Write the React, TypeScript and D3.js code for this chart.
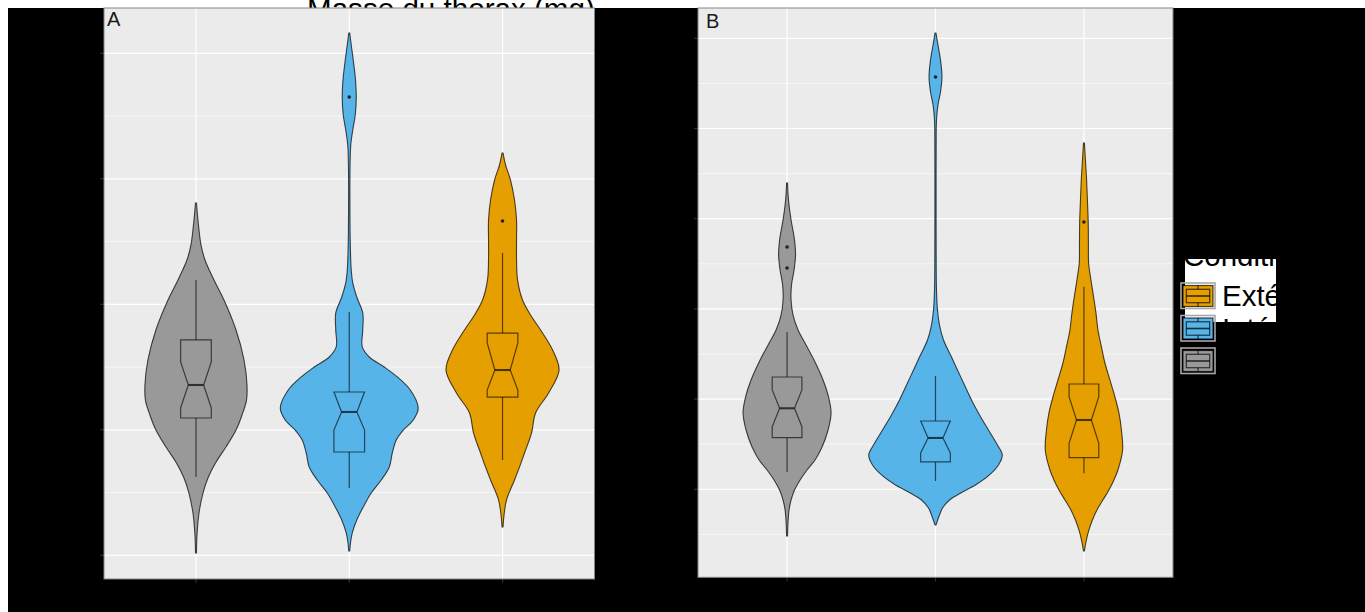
import React from "react";
import * as d3 from "d3";

// ---------- data ----------
const categories = ["Contrôle", "Intérieur", "Extérieur"];
const legendOrder = ["Extérieur", "Intérieur", "Contrôle"];
const legendTitle = "Condition";
const chartTitle = "Masse du thorax (mg)";
const panelTags = ["A", "B"];

const yTicksA = [2, 3, 4, 5, 6];
const yDomainA: [number, number] = [1.811, 6.361];
const yTicksB = [2, 3, 4, 5, 6, 7];
const yDomainB: [number, number] = [1.024, 7.336];

// violin profiles: [value, scaled density]
const violinAControle = [[4.807,0.007],[4.712,0.022],[4.592,0.044],[4.473,0.073],[4.353,0.131],[4.194,0.261],[4.034,0.406],[3.795,0.581],[3.556,0.697],[3.357,0.740],[3.237,0.733],[3.118,0.668],[2.998,0.581],[2.863,0.435],[2.735,0.283],[2.616,0.174],[2.496,0.102],[2.337,0.044],[2.162,0.015],[2.018,0.007]];
const violinAInterieur = [[6.162,0.007],[6.066,0.029],[5.947,0.058],[5.787,0.091],[5.652,0.102],[5.508,0.087],[5.389,0.051],[5.269,0.022],[5.110,0.012],[4.751,0.010],[4.433,0.017],[4.273,0.029],[4.170,0.051],[4.058,0.109],[3.931,0.196],[3.795,0.196],[3.660,0.189],[3.580,0.290],[3.500,0.508],[3.421,0.697],[3.317,0.885],[3.174,1.0],[3.078,0.929],[2.998,0.784],[2.919,0.682],[2.815,0.624],[2.704,0.581],[2.600,0.464],[2.496,0.319],[2.385,0.203],[2.281,0.109],[2.178,0.044],[2.114,0.022],[2.034,0.007]];
const violinAExterieur = [[5.206,0.007],[5.110,0.044],[4.990,0.116],[4.831,0.174],[4.672,0.203],[4.512,0.203],[4.353,0.203],[4.194,0.218],[4.034,0.290],[3.915,0.406],[3.795,0.552],[3.636,0.726],[3.476,0.820],[3.293,0.668],[3.134,0.479],[2.975,0.421],[2.815,0.319],[2.704,0.247],[2.600,0.174],[2.441,0.058],[2.321,0.022],[2.225,0.007]];

const violinBControle = [[5.396,0.007],[5.207,0.022],[4.986,0.060],[4.764,0.112],[4.598,0.127],[4.431,0.105],[4.265,0.067],[4.099,0.060],[3.932,0.090],[3.766,0.165],[3.600,0.284],[3.433,0.404],[3.212,0.539],[3.045,0.614],[2.846,0.659],[2.657,0.614],[2.469,0.524],[2.325,0.419],[2.214,0.299],[2.103,0.195],[1.992,0.112],[1.881,0.060],[1.771,0.030],[1.637,0.015],[1.482,0.007]];
const violinBInterieur = [[7.059,0.007],[6.926,0.037],[6.759,0.075],[6.571,0.097],[6.405,0.075],[6.261,0.037],[6.094,0.015],[5.762,0.010],[5.207,0.009],[4.653,0.010],[4.210,0.015],[3.988,0.030],[3.821,0.060],[3.655,0.120],[3.489,0.225],[3.323,0.329],[3.156,0.434],[2.990,0.539],[2.824,0.659],[2.657,0.793],[2.491,0.928],[2.380,1.0],[2.269,0.943],[2.159,0.808],[2.048,0.599],[1.970,0.404],[1.881,0.210],[1.793,0.105],[1.715,0.060],[1.604,0.007]];
const violinBExterieur = [[5.839,0.007],[5.651,0.022],[5.429,0.040],[5.207,0.052],[4.963,0.064],[4.708,0.067],[4.509,0.070],[4.320,0.105],[4.132,0.145],[3.955,0.180],[3.766,0.210],[3.578,0.262],[3.400,0.314],[3.212,0.389],[3.023,0.464],[2.846,0.524],[2.657,0.561],[2.436,0.579],[2.214,0.509],[2.103,0.449],[1.992,0.374],[1.881,0.284],[1.771,0.195],[1.660,0.127],[1.549,0.075],[1.438,0.037],[1.316,0.007]];

// box stats: [whiskerLo, q1, notchLo, median, notchHi, q3, whiskerHi]
const boxAControle = [2.624, 3.094, 3.174, 3.357, 3.540, 3.716, 4.194];
const boxAInterieur = [2.536, 2.823, 2.998, 3.142, 3.301, 3.301, 3.939];
const boxAExterieur = [2.759, 3.261, 3.317, 3.476, 3.692, 3.771, 4.409];
const boxBControle = [2.192, 2.572, 2.694, 2.898, 3.101, 3.245, 3.744];
const boxBInterieur = [2.092, 2.303, 2.402, 2.569, 2.757, 2.757, 3.256];
const boxBExterieur = [2.177, 2.350, 2.510, 2.768, 3.027, 3.167, 4.246];

const outliersA = [[], [5.652], [4.664]];
const outliersB = [[4.686, 4.453], [6.571], [4.963]];

// ---------- style ----------
const fills: Record<string, string> = {
  "Contrôle": "#999999",
  "Intérieur": "#56B4E9",
  "Extérieur": "#E69F00",
};
const FONT = "'Liberation Sans', Arial, Helvetica, sans-serif";

type PanelProps = {
  x0: number; x1: number; y0: number; y1: number;
  yDomain: [number, number]; yTicks: number[];
  violins: number[][][]; boxes: number[][]; outliers: number[][];
  tag: string; tagX: number; tagY: number;
};

function Panel(p: PanelProps) {
  const x = d3.scalePoint<string>().domain(categories).range([p.x0, p.x1]).padding(0.6);
  const y = d3.scaleLinear().domain(p.yDomain).range([p.y1, p.y0]);
  const step = x.step();
  const half = step * 0.45;
  const boxHalf = step * 0.1;
  const notchHalf = boxHalf * 0.5;
  const tickStep = p.yTicks[1] - p.yTicks[0];
  const minors = [p.yTicks[0] - tickStep / 2, ...p.yTicks.map((t) => t + tickStep / 2)]
    .filter((v) => v > p.yDomain[0] && v < p.yDomain[1]);
  const majors = p.yTicks.filter((v) => v > p.yDomain[0] && v < p.yDomain[1]);

  return (
    <g>
      <rect x={p.x0} y={p.y0} width={p.x1 - p.x0} height={p.y1 - p.y0} fill="#EBEBEB" />
      {minors.map((v) => (
        <line key={"mi" + v} x1={p.x0} x2={p.x1} y1={y(v)} y2={y(v)} stroke="#fff" strokeWidth={0.6} />
      ))}
      {majors.map((v) => (
        <line key={"ma" + v} x1={p.x0} x2={p.x1} y1={y(v)} y2={y(v)} stroke="#fff" strokeWidth={1.2} />
      ))}
      {categories.map((c) => (
        <line key={"vx" + c} x1={x(c)} x2={x(c)} y1={p.y0} y2={p.y1} stroke="#fff" strokeWidth={1.2} />
      ))}
      {majors.map((v) => (
        <line key={"tk" + v} x1={p.x0 - 4} x2={p.x0} y1={y(v)} y2={y(v)} stroke="#333" strokeWidth={1.1} />
      ))}
      {categories.map((c) => (
        <line key={"tx" + c} x1={x(c)} x2={x(c)} y1={p.y1} y2={p.y1 + 4} stroke="#333" strokeWidth={1.1} />
      ))}
      {categories.map((c, i) => {
        const cx = x(c) as number;
        const area = d3
          .area<number[]>()
          .y((d) => y(d[0]))
          .x0((d) => cx - d[1] * half)
          .x1((d) => cx + d[1] * half)
          .curve(d3.curveCatmullRom.alpha(0.5));
        const [lo, q1, nLo, med, nHi, q3, hi] = p.boxes[i];
        const L = cx - boxHalf, R = cx + boxHalf, nl = cx - notchHalf, nr = cx + notchHalf;
        const boxPath =
          `M${L},${y(q3)}L${L},${y(nHi)}L${nl},${y(med)}L${L},${y(nLo)}L${L},${y(q1)}` +
          `L${R},${y(q1)}L${R},${y(nLo)}L${nr},${y(med)}L${R},${y(nHi)}L${R},${y(q3)}Z`;
        return (
          <g key={"v" + c}>
            <path d={area(p.violins[i]) || ""} fill={fills[c]} stroke="rgba(0,0,0,0.7)" strokeWidth={1.1} />
            <line x1={cx} x2={cx} y1={y(q3)} y2={y(hi)} stroke="rgba(0,0,0,0.62)" strokeWidth={1.2} />
            <line x1={cx} x2={cx} y1={y(q1)} y2={y(lo)} stroke="rgba(0,0,0,0.62)" strokeWidth={1.2} />
            <path d={boxPath} fill={fills[c]} stroke="rgba(0,0,0,0.62)" strokeWidth={1.2} />
            <line x1={nl} x2={nr} y1={y(med)} y2={y(med)} stroke="rgba(0,0,0,0.68)" strokeWidth={2.1} />
            {p.outliers[i].map((o, j) => (
              <circle key={j} cx={cx} cy={y(o)} r={1.8} fill="#222" />
            ))}
          </g>
        );
      })}
      <rect x={p.x0} y={p.y0} width={p.x1 - p.x0} height={p.y1 - p.y0} fill="none" stroke="#858585" strokeWidth={1} />
      <text x={p.tagX} y={p.tagY} fontSize={20} fill="#1a1a1a" fontFamily={FONT}>{p.tag}</text>
    </g>
  );
}

function LegendKey({ x, y, w, h, color }: { x: number; y: number; w: number; h: number; color: string }) {
  const ix = x + 2, iy = y + 2.5, iw = w - 4, ih = h - 4.5;
  const bx0 = ix + iw * 0.11, bx1 = ix + iw * 0.89;
  const by0 = iy + ih * 0.18, by1 = iy + ih * 0.82, bm = iy + ih * 0.5;
  const mx = ix + iw / 2;
  return (
    <g>
      <rect x={x} y={y} width={w} height={h} fill="none" stroke="#a8a8a8" strokeWidth={1.6} />
      <rect x={ix} y={iy} width={iw} height={ih} fill={color} stroke="rgba(0,0,0,0.7)" strokeWidth={1.2} />
      <line x1={mx} x2={mx} y1={iy} y2={by0} stroke="rgba(0,0,0,0.7)" strokeWidth={1.2} />
      <line x1={mx} x2={mx} y1={by1} y2={iy + ih} stroke="rgba(0,0,0,0.7)" strokeWidth={1.2} />
      <rect x={bx0} y={by0} width={bx1 - bx0} height={by1 - by0} fill={color} stroke="rgba(0,0,0,0.7)" strokeWidth={1.2} />
      <line x1={bx0} x2={bx1} y1={bm} y2={bm} stroke="rgba(0,0,0,0.75)" strokeWidth={1.6} />
    </g>
  );
}

export default function App() {
  const W = 1365, H = 612;
  const legendX = 1181, legendY0 = 283, legendStep = 32.5, keyW = 34, keyH = 25.5;
  return (
    <svg
      width={W}
      height={H}
      style={{ position: "absolute", left: 0, top: 0, overflow: "visible" }}
      fontFamily={FONT}
    >
      <rect x={0} y={0} width={W} height={H} fill="#fff" />
      <rect x={8} y={8} width={W - 8} height={H - 8} fill="#000" />
      <text x={307} y={19} fontSize={29.6} fill="#000" fontFamily={FONT}>{chartTitle}</text>
      <Panel
        x0={104} x1={594.5} y0={8} y1={579}
        yDomain={yDomainA} yTicks={yTicksA}
        violins={[violinAControle, violinAInterieur, violinAExterieur]}
        boxes={[boxAControle, boxAInterieur, boxAExterieur]}
        outliers={outliersA}
        tag={panelTags[0]} tagX={107} tagY={25.5}
      />
      <Panel
        x0={698} x1={1173} y0={8} y1={577.3}
        yDomain={yDomainB} yTicks={yTicksB}
        violins={[violinBControle, violinBInterieur, violinBExterieur]}
        boxes={[boxBControle, boxBInterieur, boxBExterieur]}
        outliers={outliersB}
        tag={panelTags[1]} tagX={706} tagY={28.3}
      />
      {/* legend */}
      <rect x={1185} y={259} width={91} height={63} fill="#fff" />
      <text x={1183} y={266} fontSize={29.5} fill="#000" fontFamily={FONT}>{legendTitle}</text>
      {legendOrder.map((c, i) => (
        <g key={c}>
          <LegendKey x={legendX} y={legendY0 + i * legendStep} w={keyW} h={keyH} color={fills[c]} />
          <text x={1222} y={legendY0 + i * legendStep + 23} fontSize={29.5} fill="#000" fontFamily={FONT}>{c}</text>
        </g>
      ))}
    </svg>
  );
}
